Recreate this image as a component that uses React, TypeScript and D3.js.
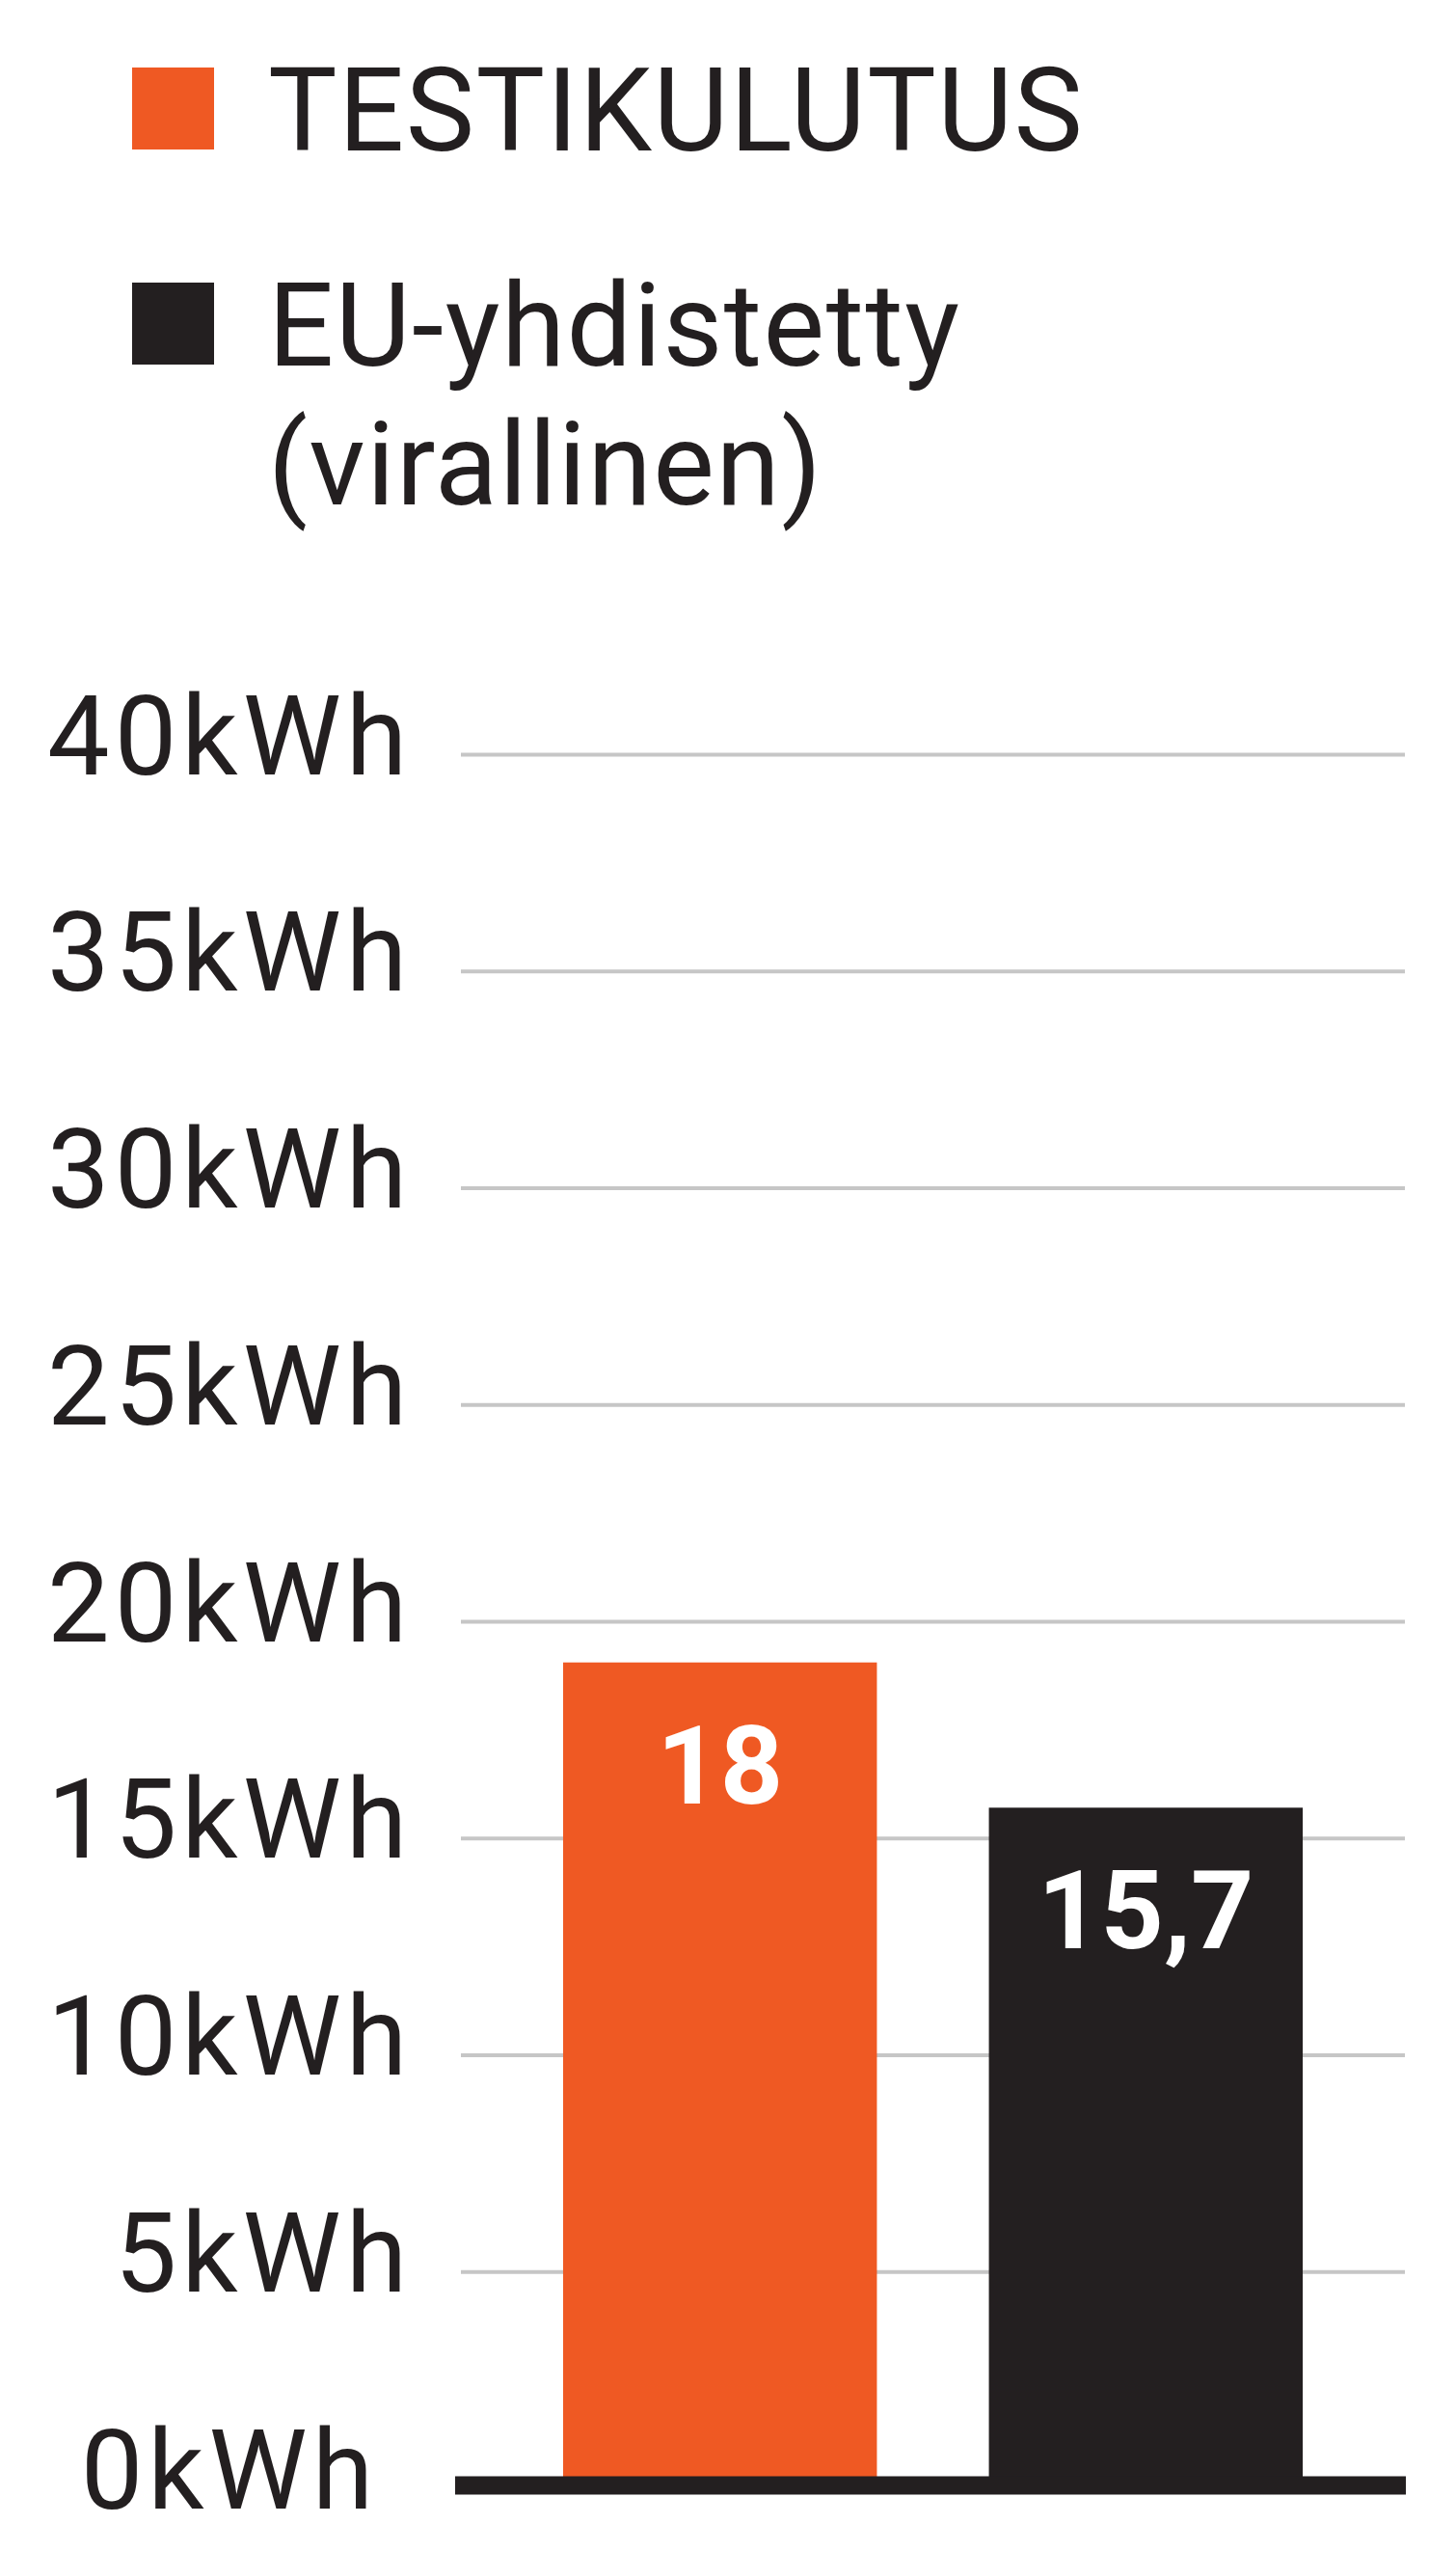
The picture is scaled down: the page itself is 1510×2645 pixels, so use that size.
import * as d3 from 'd3';
import React, { useRef, useEffect } from 'react';

// bar heights as drawn in the picture, and the numbers printed on them
const categories = ['TESTIKULUTUS', 'EU-yhdistetty'];
const barValues = [19.05, 15.7];
const valueLabels = ['18', '15,7'];
const barColors = ['#ef5923', '#231f20'];

const legendLines = [['TESTIKULUTUS'], ['EU-yhdistetty', '(virallinen)']];

const yTicks = [0, 5, 10, 15, 20, 25, 30, 35, 40];
const unit = 'kWh';

function App() {
  const ref = useRef(null);

  useEffect(() => {
    const width = 1510;
    const height = 2645;
    const margin = { top: 782, right: 53, bottom: 65, left: 478 };
    const textColor = '#231f20';
    const font = 'Roboto, "DejaVu Sans", sans-serif';

    const svg = d3.select(ref.current)
      .attr('viewBox', '0 0 ' + width + ' ' + height)
      .attr('width', width)
      .attr('height', height);

    svg.selectAll('*').remove();

    const x = d3.scaleBand<string>()
      .domain(categories)
      .range([margin.left, width - margin.right])
      .paddingInner(0.263)
      .paddingOuter(0.24);

    const y = d3.scaleLinear()
      .domain([0, 40])
      .range([height - margin.bottom, margin.top]);

    // legend
    const legend = svg.append('g').attr('class', 'legend');
    const legendTop = [70, 293];
    legendLines.forEach((lines, i) => {
      legend.append('rect')
        .attr('x', 137)
        .attr('y', legendTop[i])
        .attr('width', 85)
        .attr('height', 85)
        .attr('fill', barColors[i]);
      const t = legend.append('text')
        .attr('x', 278)
        .attr('y', legendTop[i] + 86)
        .attr('font-family', font)
        .attr('font-size', 120)
        .attr('letter-spacing', 1.5)
        .attr('fill', textColor);
      lines.forEach((line, j) => {
        t.append('tspan')
          .attr('x', 278)
          .attr('dy', j === 0 ? 0 : 144)
          .text(line);
      });
    });

    // y axis with gridlines
    const axis = d3.axisLeft(y)
      .tickValues(yTicks)
      .tickSize(-(width - margin.right - margin.left))
      .tickPadding(51)
      .tickFormat((d) => d + unit);

    const gAxis = svg.append('g')
      .attr('transform', 'translate(' + margin.left + ',0)')
      .call(axis);

    gAxis.select('.domain').remove();
    gAxis.selectAll('.tick line')
      .attr('stroke', '#c6c6c6')
      .attr('stroke-width', 4);
    gAxis.selectAll('.tick text')
      .attr('dy', 20)
      .attr('font-family', font)
      .attr('font-size', 115)
      .attr('letter-spacing', 5)
      .attr('fill', textColor);
    gAxis.selectAll('.tick text')
      .filter((d: any) => d === 0)
      .attr('x', -86);

    // bars
    const data = categories.map((c, i) => ({ c, v: barValues[i], label: valueLabels[i], color: barColors[i] }));

    svg.append('g')
      .selectAll('rect')
      .data(data)
      .join('rect')
      .attr('x', (d) => x(d.c) || 0)
      .attr('y', (d) => y(d.v))
      .attr('width', x.bandwidth())
      .attr('height', (d) => y(0) - y(d.v))
      .attr('fill', (d) => d.color);

    svg.append('g')
      .selectAll('text')
      .data(data)
      .join('text')
      .attr('x', (d) => (x(d.c) || 0) + x.bandwidth() / 2)
      .attr('y', (d) => y(d.v) + 146)
      .attr('text-anchor', 'middle')
      .attr('font-family', font)
      .attr('font-weight', 'bold')
      .attr('font-size', 114)
      .attr('fill', '#ffffff')
      .text((d) => d.label);

    // thick baseline
    svg.append('line')
      .attr('x1', 472)
      .attr('x2', width - margin.right + 1)
      .attr('y1', y(0) - 3)
      .attr('y2', y(0) - 3)
      .attr('stroke', '#231f20')
      .attr('stroke-width', 19);
  }, []);

  return (
    <svg
      ref={ref}
      style={{ position: 'absolute', left: 0, top: 0, background: '#ffffff' }}
    />
  );
}

export default App;
